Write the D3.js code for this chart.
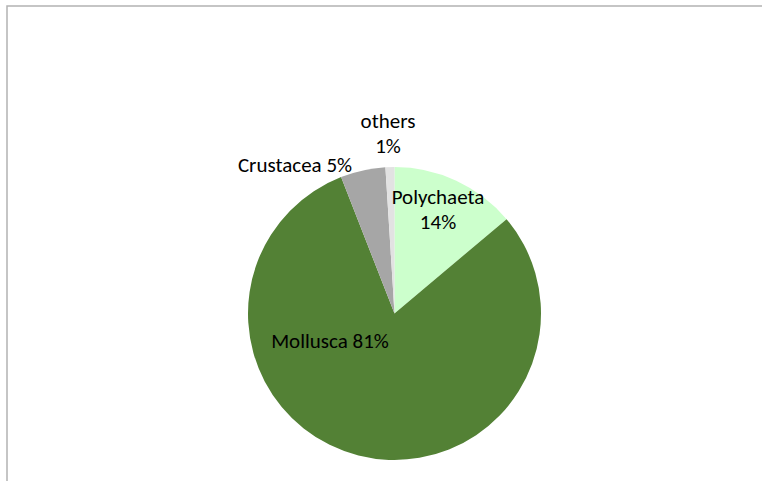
<!DOCTYPE html>
<html>
<head>
<meta charset="utf-8">
<script src="https://cdn.jsdelivr.net/npm/d3@7"></script>
<style>
  html, body { margin: 0; padding: 0; background: #fff; }
  svg { display: block; }
  text { font-family: Carlito, Calibri, Lato, "Liberation Sans", sans-serif; fill: #000; }
</style>
</head>
<body>
<svg id="chart" width="762" height="481"></svg>
<script>
// Share of benthic groups (%), clockwise from 12 o'clock
const groups = ["Polychaeta", "Mollusca", "Crustacea", "others"];
const shares = [14, 81, 5, 1];
const colors = ["#CCFFCC", "#538135", "#A6A6A6", "#E2E2E2"];

// label placement: anchor point and line breaks for each slice label
const labelLines = [["Polychaeta", "14%"], ["Mollusca 81%"], ["Crustacea 5%"], ["others", "1%"]];
const labelAt = [[438, 204], [330, 348], [295, 172], [388, 128]];

const svg = d3.select("#chart");
const W = 762, H = 481;

// chart area frame
svg.append("rect")
  .attr("x", 7).attr("y", 6)
  .attr("width", W + 20).attr("height", H + 20)
  .attr("fill", "#fff")
  .attr("stroke", "#b3b3b3")
  .attr("stroke-width", 1.5);

const cx = 394.5, cy = 313.5, r = 146.5;

const pie = d3.pie().sort(null).value(d => d)(shares);
const arc = d3.arc().innerRadius(0).outerRadius(r);

const g = svg.append("g").attr("transform", `translate(${cx},${cy})`);
g.selectAll("path")
  .data(pie)
  .join("path")
  .attr("d", arc)
  .attr("fill", (d, i) => colors[i]);

const fs = 21;
const lineH = 25;
svg.selectAll("text.lbl")
  .data(groups)
  .join("text")
  .attr("class", "lbl")
  .attr("text-anchor", "middle")
  .attr("font-size", fs)
  .each(function (name, i) {
    const lines = labelLines[i];
    const [x, y] = labelAt[i];
    d3.select(this).selectAll("tspan")
      .data(lines)
      .join("tspan")
      .attr("x", x)
      .attr("y", (t, k) => y + k * lineH)
      .text(t => t);
  });
</script>
</body>
</html>
